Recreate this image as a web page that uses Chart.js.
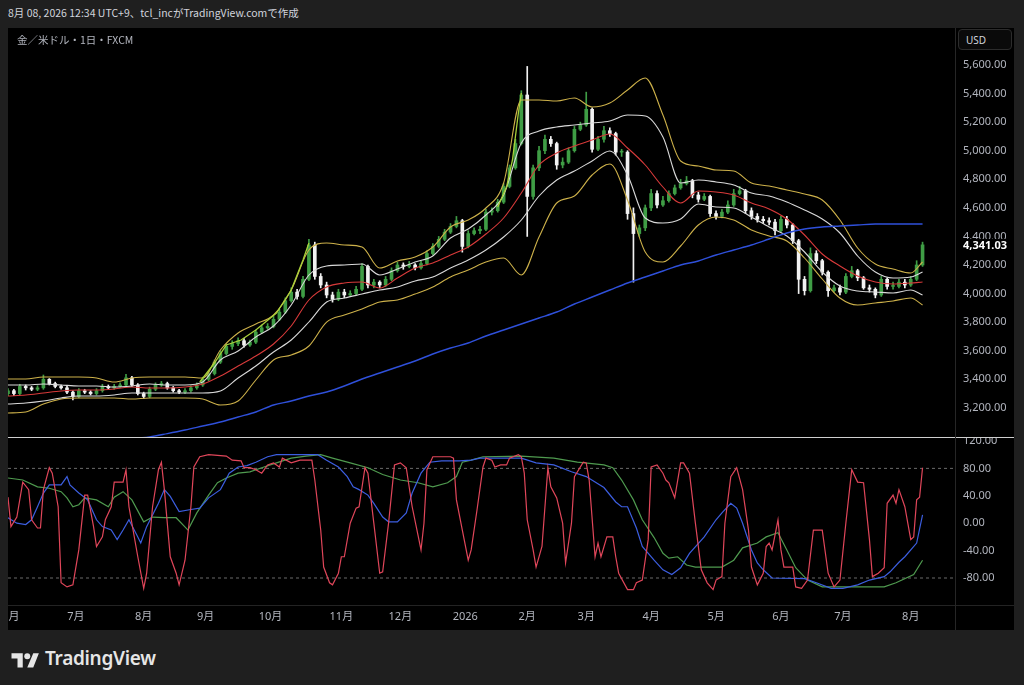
<!DOCTYPE html>
<html><head><meta charset="utf-8">
<script src="https://cdn.jsdelivr.net/npm/chart.js@4.4.1/dist/chart.umd.min.js"></script>
<style>
html,body{margin:0;padding:0;background:#1f1f1f;width:1024px;height:685px;overflow:hidden;font-family:"Noto Sans","Noto Sans CJK JP",sans-serif;}
#hdr{position:absolute;left:8px;top:5px;font-size:10.5px;color:#d1d4dc;font-family:"Noto Sans CJK JP","Noto Sans",sans-serif;white-space:nowrap;line-height:16px;}
#panel{position:absolute;left:8px;top:28px;width:1006px;height:602px;background:#000;}
#c1{position:absolute;left:8px;top:28px;}
#c2{position:absolute;left:8px;top:437px;}
#legend{position:absolute;left:17px;top:32px;font-size:10.5px;color:#b2b5be;font-family:"Noto Sans CJK JP","Noto Sans",sans-serif;line-height:16px;}
#usd{position:absolute;left:958px;top:29px;width:54px;height:21px;border:1px solid #2c2c2c;border-radius:4px;background:#0a0a0a;color:#d1d4dc;font-size:10px;line-height:20px;padding-left:7px;box-sizing:border-box;}
.ln{position:absolute;}
#brand{position:absolute;left:45px;top:645px;font-size:19px;font-weight:600;color:#e6e6e6;letter-spacing:-0.3px;}
</style></head>
<body>
<div id="hdr">8月 08, 2026 12:34 UTC+9、tcl_incがTradingView.comで作成</div>
<div id="panel"></div>
<canvas id="c1" width="1006" height="409"></canvas>
<canvas id="c2" width="1006" height="193"></canvas>
<div class="ln" style="left:8px;top:437px;width:1006px;height:1px;background:#cfcfcf;"></div>
<div class="ln" style="left:8px;top:605px;width:1006px;height:1px;background:#232323;"></div>
<div class="ln" style="left:955px;top:28px;width:1px;height:602px;background:#262626;"></div>
<div id="legend">金／米ドル・1日・FXCM</div>
<div id="usd">USD</div>
<svg style="position:absolute;left:11px;top:651px" width="28" height="18" viewBox="0 0 36 24">
<path fill="#e6e6e6" d="M15 22H8V10H0V3h15v19zM29 22h-8l8-19h7.5L29 22z"/>
<circle fill="#e6e6e6" cx="21" cy="7" r="4"/>
</svg>
<div id="brand">TradingView</div>
<script>
// ---------- price candles (one candle per 2 trading days) ----------
const opens = [
3300,3320,3300,3350,3340,3330,3340,3400,3370,3350,
3340,3310,3280,3320,3310,3300,3320,3350,3340,3350,
3360,3410,3360,3300,3280,3330,3360,3370,3340,3320,
3310,3320,3340,3360,3400,3440,3520,3580,3630,3650,
3670,3640,3660,3730,3760,3770,3820,3870,3950,4010,
3980,4100,4340,4120,4060,3990,3960,4010,3990,4000,
4030,4190,4060,4080,4060,4100,4160,4200,4190,4200,
4180,4210,4280,4330,4380,4430,4470,4510,4330,4420,
4440,4450,4570,4580,4640,4750,4880,5050,5390,4680,
4880,5000,5080,5050,4900,4920,5000,5150,5180,5290,
5010,5080,5140,5120,4990,4990,4560,4420,4460,4600,
4700,4620,4650,4700,4740,4770,4790,4690,4660,4680,
4560,4540,4570,4620,4700,4720,4580,4540,4520,4510,
4500,4440,4520,4480,4370,4100,4020,4280,4230,4150,
4020,4040,4010,4120,4160,4110,4040,4030,3990,4100,
4050,4050,4080,4060,4100,4200];
const highs = [
3335,3330,3365,3360,3350,3355,3430,3405,3380,3360,
3350,3320,3335,3330,3320,3335,3365,3360,3365,3375,
3435,3420,3370,3310,3345,3375,3385,3380,3350,3330,
3335,3355,3375,3415,3455,3535,3600,3645,3670,3690,
3685,3675,3745,3780,3790,3840,3890,3970,4040,4030,
4120,4380,4360,4140,4080,4010,4030,4030,4020,4050,
4210,4200,4100,4090,4120,4180,4220,4215,4225,4210,
4230,4300,4350,4400,4450,4490,4540,4520,4440,4460,
4470,4590,4600,4660,4770,4900,5080,5420,5590,4900,
5030,5110,5100,5060,4950,5020,5170,5200,5410,5300,
5100,5170,5160,5130,5010,5000,4600,4480,4620,4730,
4720,4680,4720,4760,4800,4820,4800,4710,4700,4690,
4580,4590,4650,4730,4750,4730,4600,4560,4540,4530,
4520,4540,4540,4490,4380,4120,4320,4300,4240,4160,
4060,4060,4140,4190,4170,4120,4060,4040,4120,4110,
4080,4100,4100,4120,4230,4360];
const lows = [
3285,3285,3290,3325,3320,3320,3330,3360,3340,3330,
3300,3255,3270,3300,3290,3290,3310,3330,3330,3345,
3350,3350,3290,3265,3270,3320,3350,3330,3310,3300,
3300,3310,3330,3350,3390,3430,3510,3570,3610,3635,
3625,3630,3650,3720,3750,3760,3810,3860,3940,3960,
3970,4090,4100,4040,3970,3940,3950,3970,3980,3990,
4020,4040,4040,4040,4050,4090,4150,4170,4180,4165,
4170,4200,4270,4320,4370,4420,4460,4290,4320,4410,
4420,4440,4550,4570,4630,4740,4870,5040,4400,4660,
4860,4980,5030,4870,4880,4910,4990,5140,5170,4990,
5000,5060,5100,4970,4960,4520,4080,4400,4440,4580,
4600,4610,4640,4690,4730,4760,4670,4640,4650,4540,
4520,4530,4560,4610,4690,4560,4520,4500,4490,4480,
4410,4430,4460,4350,4000,3990,4010,4210,4130,3980,
4010,3990,4000,4110,4090,4030,4010,3970,3980,4030,
4030,4040,4040,4050,4090,4190];
const closes = [
3320,3300,3350,3340,3330,3340,3400,3370,3350,3340,
3310,3280,3320,3310,3300,3320,3350,3340,3350,3360,
3410,3360,3300,3280,3330,3360,3370,3340,3320,3310,
3320,3340,3360,3400,3440,3520,3580,3630,3650,3670,
3640,3660,3730,3760,3770,3820,3870,3950,4010,3980,
4100,4340,4120,4060,3990,3960,4010,3990,4000,4030,
4190,4060,4080,4060,4100,4160,4200,4190,4200,4180,
4210,4280,4330,4380,4430,4470,4510,4330,4420,4440,
4450,4570,4580,4640,4750,4880,5050,5390,4680,4880,
5000,5080,5050,4900,4920,5000,5150,5180,5290,5010,
5080,5140,5120,4990,4990,4560,4420,4460,4600,4700,
4620,4650,4700,4740,4770,4790,4690,4660,4680,4560,
4540,4570,4620,4700,4720,4580,4540,4520,4510,4500,
4440,4520,4480,4370,4100,4020,4280,4230,4150,4020,
4040,4010,4120,4160,4110,4040,4030,3990,4100,4050,
4050,4080,4060,4100,4200,4341.03];
const candleStep = 2; // trading days per candle

// ---------- bands & moving average (sampled trading days) ----------
const bandDays = [0,6,12,18,24,30,36,42,48,54,60,66,72,78,84,90,96,102,108,114,120,126,132,138,144,150,156,162,168,174,180,186,192,198,204,210,216,222,228,234,240,246,252,258,264,270,276,282,288,294,300,306,310];
const upperOuter = [3402,3402,3416,3416,3416,3409,3381,3409,3416,3416,3416,3409,3605,3724,3787,3850,4025,4305,4354,4340,4326,4179,4228,4256,4326,4466,4515,4599,4774,5355,5355,5348,5369,5306,5334,5425,5509,5250,4928,4893,4865,4858,4774,4753,4725,4697,4655,4515,4319,4207,4172,4144,4221];
const upperInner = [3360,3360,3367,3360,3353,3353,3346,3353,3367,3360,3360,3381,3535,3598,3696,3773,3920,4130,4193,4200,4207,4130,4172,4221,4263,4389,4452,4550,4690,5054,5138,5166,5180,5194,5208,5250,5243,5096,4774,4795,4781,4760,4704,4683,4641,4585,4522,4424,4263,4151,4109,4116,4151];
const middle = [3283,3290,3304,3318,3325,3325,3332,3346,3339,3339,3346,3367,3423,3493,3563,3647,3773,3955,4046,4074,4081,4039,4109,4179,4214,4270,4326,4417,4529,4704,4900,4984,5033,5075,5117,5019,4900,4746,4634,4718,4711,4690,4634,4592,4522,4410,4277,4193,4123,4081,4067,4074,4081];
const lowerInner = [3227,3234,3248,3269,3283,3283,3290,3304,3304,3304,3304,3304,3318,3409,3493,3591,3675,3801,3941,3969,3997,4025,4046,4088,4116,4179,4235,4305,4396,4515,4683,4795,4858,4928,4998,4830,4529,4494,4522,4627,4606,4599,4536,4466,4403,4291,4151,4053,4018,4011,4004,4025,3990];
const lowerOuter = [3164,3171,3227,3262,3269,3269,3269,3262,3269,3269,3269,3262,3220,3248,3395,3535,3570,3633,3800,3850,3892,3941,3955,3997,4046,4116,4165,4221,4249,4130,4396,4634,4683,4830,4907,4655,4291,4221,4333,4480,4536,4515,4445,4403,4368,4249,4102,3969,3920,3934,3948,3969,3920];
const ma200 = [null,null,null,null,null,null,null,2985,2997,3020,3045,3073,3101,3136,3171,3220,3248,3283,3311,3353,3402,3444,3486,3528,3577,3619,3654,3703,3745,3787,3829,3871,3927,3976,4025,4074,4116,4158,4200,4228,4270,4305,4340,4382,4424,4452,4466,4473,4480,4487,4487,4487,4487];
// highlight line riding the upper band during rallies
const rallyLine = [[65,3381],[70,3514],[74,3640],[79,3675],[84,3745],[91,3864],[96,4025],[100,4235],[102,4354],[103,null],[166,4606],[169,4746],[171,4935],[173,5264],[174,5404]];

// ---------- oscillators ----------
const oscRed = [[0,38],[1,-5],[3,9],[5,60],[7,49],[8,5],[10,-7],[11,-7],[12,49],[14,81],[15,73],[17,24],[18,-87],[20,-93],[22,-90],[24,-39],[26,41],[27,41],[29,-5],[30,-34],[32,-20],[33,5],[35,24],[36,60],[39,60],[40,78],[41,24],[44,-49],[46,-95],[47,-73],[49,24],[51,78],[52,89],[53,49],[55,-49],[57,-73],[58,-90],[60,-54],[62,24],[63,82],[65,97],[68,100],[74,98],[76,92],[79,91],[80,81],[82,81],[84,78],[86,73],[88,85],[90,88],[92,82],[93,95],[96,88],[99,92],[103,92],[104,63],[106,-10],[107,-64],[109,-87],[110,-90],[112,-73],[113,-49],[114,-49],[116,0],[118,22],[119,24],[121,81],[122,73],[124,0],[126,-73],[127,-71],[129,0],[131,85],[133,88],[135,81],[137,24],[140,-39],[141,0],[142,78],[144,97],[150,97],[151,95],[152,34],[154,-10],[156,-54],[157,-39],[159,20],[161,82],[162,95],[164,92],[165,82],[167,85],[169,85],[170,95],[173,100],[174,97],[175,73],[176,5],[178,-39],[179,-64],[181,-34],[183,81],[184,53],[186,37],[188,0],[189,-58],[191,0],[192,68],[195,89],[196,88],[197,63],[199,-49],[200,-29],[201,-49],[203,-20],[205,-20],[206,-49],[207,-73],[210,-97],[212,-97],[213,-87],[215,-83],[217,-24],[218,82],[220,85],[222,73],[223,63],[224,59],[226,37],[228,88],[229,88],[231,73],[233,0],[235,-68],[237,-87],[239,-97],[240,-83],[242,-78],[243,0],[245,68],[247,81],[249,49],[251,-10],[252,-64],[254,-90],[256,-73],[257,-34],[258,-29],[259,-39],[261,5],[262,-39],[263,-64],[266,-64],[267,-93],[269,-95],[271,-83],[273,-10],[274,-10],[276,-10],[278,-73],[280,-93],[282,-83],[284,0],[286,78],[288,60],[290,59],[292,-24],[293,-78],[295,-73],[297,-65],[298,29],[300,41],[301,29],[302,49],[304,24],[306,-24],[307,-20],[308,34],[309,38],[310,81]];
const oscBlue = [[0,8],[3,0],[6,-2],[8,5],[10,24],[12,44],[14,56],[18,56],[20,68],[21,56],[24,44],[27,34],[30,5],[32,-5],[35,-10],[37,-24],[39,-10],[41,5],[44,-20],[45,-29],[47,-5],[51,29],[53,49],[55,39],[58,17],[62,20],[65,22],[68,37],[72,49],[75,73],[78,82],[81,84],[84,89],[88,97],[91,100],[99,100],[105,100],[108,92],[112,82],[115,68],[117,53],[119,49],[122,41],[124,29],[127,9],[129,2],[132,2],[135,15],[137,44],[140,73],[143,89],[147,91],[153,91],[157,92],[160,95],[168,95],[174,95],[179,88],[185,85],[191,75],[196,68],[202,52],[206,31],[208,24],[210,24],[213,-7],[215,-34],[219,-54],[222,-68],[225,-75],[228,-65],[231,-44],[236,-20],[240,5],[242,15],[245,29],[247,22],[249,0],[252,-39],[254,-58],[256,-68],[259,-80],[270,-81],[274,-87],[279,-95],[283,-95],[288,-90],[292,-83],[297,-78],[299,-71],[302,-57],[304,-49],[308,-29],[310,12]];
const oscGreen = [[0,66],[5,63],[10,53],[14,51],[18,46],[20,37],[22,24],[24,27],[26,37],[30,34],[34,24],[36,38],[39,46],[42,34],[46,2],[49,9],[53,8],[57,8],[61,-10],[64,15],[68,41],[71,59],[74,66],[78,73],[82,75],[86,81],[91,88],[96,95],[101,98],[106,100],[110,95],[116,88],[122,81],[127,71],[133,63],[139,59],[144,53],[149,59],[152,68],[154,89],[157,92],[161,97],[174,98],[185,95],[193,89],[202,85],[205,81],[208,63],[212,34],[215,5],[219,-21],[222,-44],[224,-51],[227,-49],[230,-61],[233,-64],[242,-64],[246,-54],[249,-36],[254,-29],[257,-20],[261,-14],[264,-39],[267,-65],[271,-83],[276,-93],[286,-93],[297,-93],[301,-87],[307,-75],[310,-54]];
const oscLevels = [80, -80];

// ---------- axis labels ----------
const priceTicks = [3200,3400,3600,3800,4000,4200,4400,4600,4800,5000,5200,5400,5600];
const oscTicks = [120,80,40,0,-40,-80];
const monthDays = [1,23,46,67,89,113,133,155,176,196,218,240,262,283,306];
const monthLabels = ['6月','7月','8月','9月','10月','11月','12月','2026','2月','3月','4月','5月','6月','7月','8月'];

// ---------- view ----------
const X_MIN = 0, X_MAX = 321;
const UP = '#3f9d45', DOWN = '#f2f2f2';
const LABEL_FONT = '11px "Noto Sans","Noto Sans CJK JP",sans-serif';
const LABEL_COLOR = '#b2b5be';
const fmtPrice = v => v.toLocaleString('en-US',{minimumFractionDigits:2,maximumFractionDigits:2});

const candleColors = closes.map((c,i)=> c >= opens[i] ? UP : DOWN);
const wickData = closes.map((c,i)=>({x:i*candleStep, y:[lows[i], highs[i]]}));
const bodyData = closes.map((c,i)=>({x:i*candleStep, y:[opens[i], c]}));
const band = arr => bandDays.map((d,i)=>({x:d, y:arr[i]})).filter(p=>p.y!==null);
const pairs = arr => arr.map(p=>({x:p[0], y:p[1]}));

const lineDS = (data, color, width, order, smooth) => ({
  type:'line', data, borderColor:color, borderWidth:width, pointRadius:0,
  tension: smooth ? 0.4 : 0, cubicInterpolationMode: smooth ? 'monotone' : 'default',
  fill:false, order, spanGaps:false
});

const priceAxisPlugin = {
  id:'priceAxis',
  afterDraw(chart){
    const ctx = chart.ctx, ys = chart.scales.y;
    ctx.save();
    ctx.font = LABEL_FONT; ctx.fillStyle = LABEL_COLOR;
    ctx.textAlign = 'left'; ctx.textBaseline = 'middle';
    priceTicks.forEach(v => ctx.fillText(fmtPrice(v), ys.left + 8, ys.getPixelForValue(v)));
    const last = closes[closes.length-1];
    const py = ys.getPixelForValue(last);
    ctx.fillStyle = '#000';
    ctx.fillRect(ys.left + 1, py - 6, ys.width - 1, 14);
    ctx.font = 'bold 11px "Noto Sans",sans-serif';
    ctx.fillStyle = '#ffffff';
    ctx.fillText(fmtPrice(last), ys.left + 8, py + 1);
    ctx.restore();
  }
};

const oscAxisPlugin = {
  id:'oscAxis',
  afterDraw(chart){
    const ctx = chart.ctx, ys = chart.scales.y, xs = chart.scales.x;
    ctx.save();
    ctx.font = LABEL_FONT; ctx.fillStyle = LABEL_COLOR;
    ctx.textAlign = 'left'; ctx.textBaseline = 'middle';
    oscTicks.forEach(v => ctx.fillText(v.toFixed(2), ys.left + 8, ys.getPixelForValue(v)));
    ctx.textAlign = 'center';
    monthDays.forEach((d,i) => ctx.fillText(monthLabels[i], xs.getPixelForValue(d), chart.chartArea.bottom + 12));
    ctx.restore();
  }
};

const commonOpts = (yMin, yMax, xAxisH) => ({
  responsive:false, animation:false, events:[], devicePixelRatio:1,
  layout:{padding:0, autoPadding:false},
  plugins:{legend:{display:false}, tooltip:{enabled:false}},
  scales:{
    x:{type:'linear', min:X_MIN, max:X_MAX, offset:false, display: xAxisH>0,
       grid:{display:false, drawTicks:false}, border:{display:false}, ticks:{display:false},
       afterFit(s){ s.height = xAxisH; }},
    y:{type:'linear', position:'right', min:yMin, max:yMax,
       grid:{display:false, drawTicks:false}, border:{display:false}, ticks:{display:false},
       afterFit(s){ s.width = 59; }}
  }
});

new Chart(document.getElementById('c1'), {
  type:'bar',
  data:{datasets:[
    lineDS(pairs(rallyLine), '#a9d13a', 1.3, 0, false),
    lineDS(band(ma200), '#2f50da', 1.4, 1, true),
    lineDS(band(upperOuter), '#cdb14a', 1.1, 1, true),
    lineDS(band(upperInner), '#d9d9d9', 1.1, 1, true),
    lineDS(band(middle), '#d83a3a', 1.1, 1, true),
    lineDS(band(lowerInner), '#d9d9d9', 1.1, 1, true),
    lineDS(band(lowerOuter), '#cdb14a', 1.1, 1, true),
    {type:'bar', data:bodyData, backgroundColor:candleColors, borderWidth:0, barThickness:3, grouped:false, minBarLength:1, order:4},
    {type:'bar', data:wickData, backgroundColor:candleColors, borderWidth:0, barThickness:1, grouped:false, order:5}
  ]},
  options: commonOpts(2996, 5859, 0),
  plugins:[priceAxisPlugin]
});

const levelData = v => [{x:X_MIN, y:v},{x:X_MAX, y:v}];
new Chart(document.getElementById('c2'), {
  type:'line',
  data:{datasets:[
    lineDS(pairs(oscRed), '#e0465a', 1.2, 0, false),
    lineDS(pairs(oscBlue), '#3c5ee0', 1.2, 1, false),
    lineDS(pairs(oscGreen), '#4f9a4f', 1.2, 1, false),
    ...oscLevels.map(v => Object.assign(lineDS(levelData(v), '#6a6a6a', 1, 3, false), {borderDash:[3,3]}))
  ]},
  options: commonOpts(-119.4, 125.8, 25),
  plugins:[oscAxisPlugin]
});
</script>
</body></html>
